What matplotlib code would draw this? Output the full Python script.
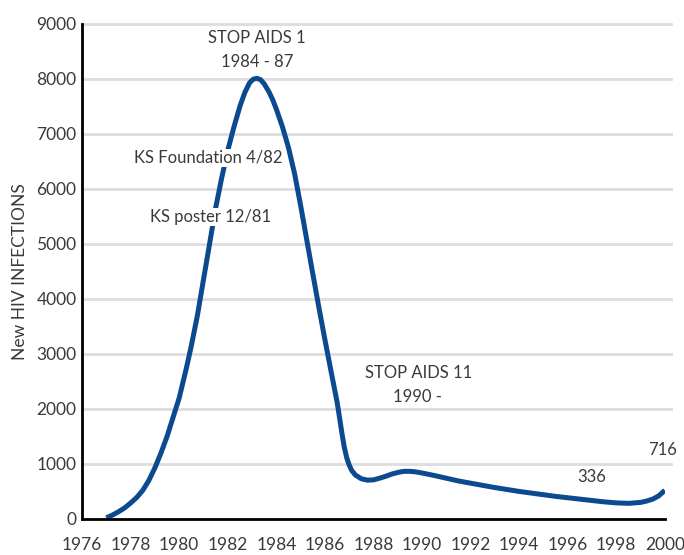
import matplotlib
matplotlib.use('Agg')
import matplotlib.pyplot as plt

# values
years = [1977.0, 1977.25, 1977.5, 1977.75, 1978.0, 1978.25, 1978.5, 1978.75,
         1979.0, 1979.25, 1979.5, 1979.75, 1980.0, 1980.3, 1980.5, 1980.75,
         1981.0, 1981.25, 1981.5, 1981.75, 1982.0, 1982.25, 1982.5, 1982.7,
         1982.9, 1983.05, 1983.2, 1983.35, 1983.5, 1983.7, 1983.85, 1984.0,
         1984.25, 1984.5, 1984.75, 1985.0, 1985.25, 1985.5, 1985.75, 1986.0,
         1986.25, 1986.5, 1986.6, 1986.7, 1986.8, 1986.9, 1987.0, 1987.1,
         1987.25, 1987.5, 1987.75, 1988.0, 1988.25, 1988.5, 1988.75, 1989.0,
         1989.25, 1989.5, 1989.75, 1990.0, 1990.5, 1991.0, 1991.5, 1992.0,
         1992.5, 1993.0, 1993.5, 1994.0, 1994.5, 1995.0, 1995.5, 1996.0,
         1996.5, 1997.0, 1997.5, 1998.0, 1998.5, 1999.0, 1999.25, 1999.5,
         1999.75, 2000.0]
infections = [20, 70, 130, 200, 290, 390, 520, 700,
              930, 1200, 1500, 1850, 2200, 2750, 3150, 3700,
              4350, 5000, 5650, 6200, 6700, 7120, 7500, 7750,
              7930, 7995, 8010, 7985, 7910, 7760, 7620, 7450,
              7130, 6750, 6280, 5700, 5080, 4460, 3850, 3260,
              2690, 2130, 1850, 1560, 1300, 1110, 980, 885,
              800, 730, 705, 710, 740, 775, 815, 845,
              865, 865, 855, 835, 790, 740, 690, 650,
              610, 570, 535, 500, 470, 440, 410, 385,
              360, 335, 310, 292, 283, 300, 325, 360,
              420, 520]

x_ticks = list(range(1976, 2001, 2))
y_ticks = list(range(0, 9001, 1000))

notes = ['STOP AIDS 1', '1984 - 87', 'KS Foundation 4/82', 'KS poster 12/81',
         'STOP AIDS 11', '1990 -', '336', '716']
note_x = [1983.2, 1983.2, 1981.2, 1981.3, 1989.87, 1989.83, 1997.0, 1999.92]
note_y = [8745, 8309, 6564, 5491, 2655, 2218, 764, 1255]
note_boxed = [False, False, True, True, False, False, False, False]


def main():
    plt.rcParams['font.family'] = ['Lato', 'DejaVu Sans']
    text_color = '#3a3a3a'
    fs = 12.5

    fig = plt.figure(figsize=(6.84, 5.55), dpi=100)
    ax = fig.add_axes([0.12, 0.065, 0.852, 0.892])

    for v in y_ticks[1:]:
        ax.axhline(v, xmin=0, xmax=1.01, color='#dddddd', lw=2, zorder=0, clip_on=False)

    ax.plot(years, infections, color='#0b4a8e', lw=3.6, solid_capstyle='butt',
            solid_joinstyle='round', zorder=2)

    for txt, x, y, boxed in zip(notes, note_x, note_y, note_boxed):
        kw = {}
        if boxed:
            kw['bbox'] = dict(facecolor='white', edgecolor='none', pad=1.0)
        ax.text(x, y, txt, ha='center', va='center', fontsize=12,
                color=text_color, zorder=3, **kw)

    ax.set_xlim(1976, 2000)
    ax.set_ylim(0, 9000)
    ax.set_xticks(x_ticks)
    ax.set_yticks(y_ticks)
    ax.tick_params(length=0, labelsize=fs, colors=text_color)
    ax.tick_params(axis='x', pad=13)
    ax.tick_params(axis='y', pad=4)

    ax.spines['top'].set_visible(False)
    ax.spines['right'].set_visible(False)
    ax.spines['left'].set_linewidth(2)
    ax.spines['bottom'].set_linewidth(2)
    ax.set_ylabel('New HIV INFECTIONS', fontsize=fs, color=text_color, labelpad=6)

    fig.savefig('out.png', dpi=100)


if __name__ == '__main__':
    main()
